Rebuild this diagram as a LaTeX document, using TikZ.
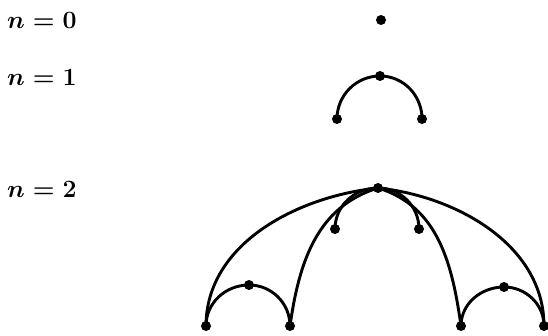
\documentclass[tikz,border=0pt]{standalone}
\begin{document}
\begin{tikzpicture}[x=1pt,y=1pt]
\tikzset{
  vdot/.style={circle,fill=black,inner sep=0pt,minimum size=10pt},
  arcline/.style={line width=2.9pt},
  nlabel/.style={anchor=west,inner sep=0pt,font=\fontsize{24}{28}\selectfont\boldmath}}
\useasboundingbox (0,0) rectangle (548,335);
% labels
\node[nlabel] (l0) at (7,315) {$n=0$};
\node[nlabel] (l1) at (7,258) {$n=1$};
\node[nlabel] (l2) at (7,146) {$n=2$};
% n=0
\node[vdot] (a) at (381,315) {};
% n=1
\node[vdot] (t1) at (380,259) {};
\node[vdot] (p1) at (337,216) {};
\node[vdot] (q1) at (422,216) {};
\draw[arcline] (p1.center) to[out=90,in=180] (t1.center) to[out=0,in=90] (q1.center);
% n=2
\node[vdot] (t2) at (378,147) {};
\node[vdot] (il) at (335,106) {};
\node[vdot] (ir) at (419,106) {};
\node[vdot] (b1) at (206,9) {};
\node[vdot] (b2) at (290,9) {};
\node[vdot] (b3) at (461,9) {};
\node[vdot] (b4) at (544,9) {};
\node[vdot] (m1) at (249,50) {};
\node[vdot] (m2) at (504,48) {};
\draw[arcline] (il.center) to[out=90,in=180] (t2.center) to[out=0,in=90] (ir.center);
\draw[arcline] (b1.center) to[out=90,in=180] (m1.center) to[out=0,in=90] (b2.center);
\draw[arcline] (b3.center) to[out=90,in=180] (m2.center) to[out=0,in=90] (b4.center);
\draw[arcline] (t2.center) to[out=186,in=90,looseness=0.95] (b1.center);
\draw[arcline] (t2.center) to[out=197,in=82,looseness=1] (b2.center);
\draw[arcline] (t2.center) to[out=-17,in=98,looseness=1] (b3.center);
\draw[arcline] (t2.center) to[out=-6,in=90,looseness=0.95] (b4.center);
\end{tikzpicture}
\end{document}
